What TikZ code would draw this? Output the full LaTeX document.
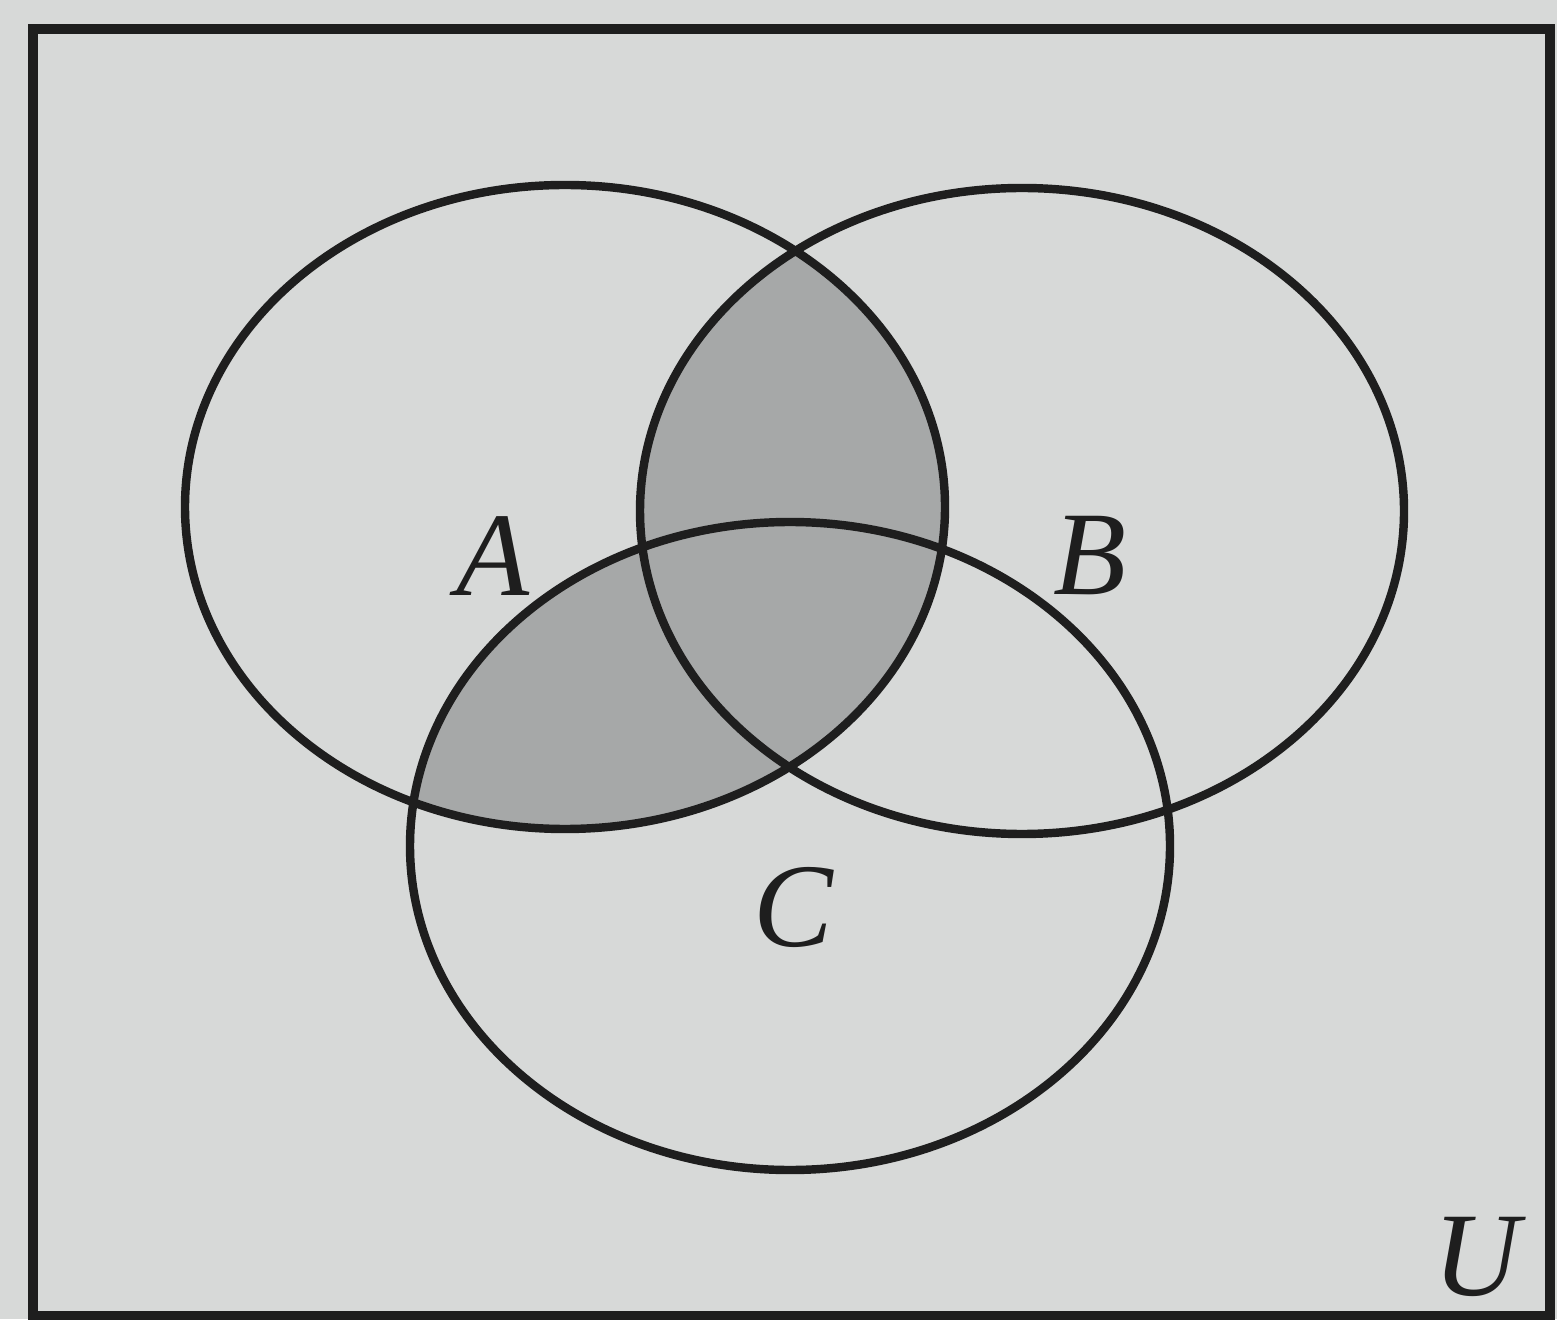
\documentclass[tikz,border=0pt]{standalone}
\usepackage{fontspec}
\setmainfont{Liberation Serif}
\definecolor{paper}{RGB}{215,217,216}
\definecolor{venngray}{RGB}{166,168,168}
\definecolor{ink}{RGB}{30,30,30}
\tikzset{
  setline/.style={draw=ink, line width=2.4pt},
  setlabel/.style={font=\fontsize{34}{40}\selectfont\itshape, text=ink, inner sep=0pt},
}
\begin{document}
\begin{tikzpicture}
\useasboundingbox (0,0) rectangle (15.57,13.19);
\fill[paper] (0,0) rectangle (15.57,13.19);
% shaded region A cap (B cup C)
\begin{scope}
  \clip (5.65,8.12) ellipse [x radius=3.80, y radius=3.22];
  \fill[venngray] (10.22,8.08) ellipse [x radius=3.82, y radius=3.23];
  \fill[venngray] (7.90,4.73) ellipse [x radius=3.80, y radius=3.24];
\end{scope}
% universe
\draw[draw=ink, line width=3pt] (0.33,0.03) rectangle (15.50,12.90);
% sets
\draw[setline] (5.65,8.12) ellipse [x radius=3.80, y radius=3.22];
\draw[setline] (10.22,8.08) ellipse [x radius=3.82, y radius=3.23];
\draw[setline] (7.90,4.73) ellipse [x radius=3.80, y radius=3.24];
% labels
\node[setlabel] (la) at (4.93,7.63) {A};
\node[setlabel] (lb) at (10.90,7.63) {B};
\node[setlabel] (lc) at (7.93,4.12) {C};
\node[setlabel] (lu) at (14.77,0.62) {U};
\end{tikzpicture}
\end{document}
